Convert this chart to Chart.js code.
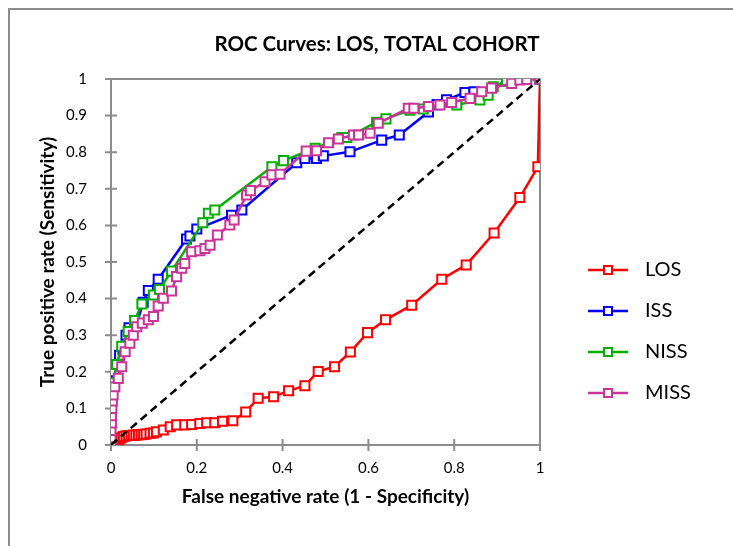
<!DOCTYPE html>
<html>
<head>
<meta charset="utf-8">
<script src="https://cdn.jsdelivr.net/npm/chart.js@4.4.1/dist/chart.umd.min.js"></script>
<style>
  html, body { margin: 0; padding: 0; background: #fff; overflow: hidden; }
  #wrap { position: relative; width: 733px; height: 546px; overflow: hidden; }
  #frame { position: absolute; left: 8px; top: 8px; width: 760px; height: 560px; border: 2px solid #8c8c8c; }
  #c { position: absolute; left: 0; top: 0; }
</style>
</head>
<body>
<div id="wrap">
  <div id="frame"></div>
  <canvas id="c" width="780" height="546"></canvas>
</div>
<script>
// ROC points: [false positive rate, true positive rate]
const losPoints = [
  [0, 0], [0.005, 0.005], [0.009, 0.009], [0.014, 0.012], [0.019, 0.016], [0.024, 0.02],
  [0.029, 0.023], [0.035, 0.025], [0.041, 0.026], [0.047, 0.026], [0.052, 0.027], [0.058, 0.027],
  [0.064, 0.028], [0.07, 0.028], [0.076, 0.029], [0.082, 0.03], [0.091, 0.032], [0.099, 0.033],
  [0.106, 0.036], [0.122, 0.041], [0.138, 0.05], [0.153, 0.055], [0.172, 0.055], [0.188, 0.056],
  [0.207, 0.059], [0.223, 0.061], [0.242, 0.061], [0.26, 0.065], [0.284, 0.066], [0.314, 0.09],
  [0.343, 0.128], [0.379, 0.132], [0.414, 0.148], [0.452, 0.162], [0.483, 0.201], [0.521, 0.214],
  [0.558, 0.254], [0.598, 0.307], [0.64, 0.342], [0.701, 0.382], [0.771, 0.453], [0.828, 0.492],
  [0.893, 0.579], [0.953, 0.676], [0.995, 0.76], [1, 1]
];
const issPoints = [
  [0, 0], [0.002, 0.13], [0.004, 0.17], [0.008, 0.2], [0.015, 0.22], [0.02, 0.245], [0.028, 0.26],
  [0.035, 0.3], [0.042, 0.32], [0.06, 0.33], [0.075, 0.39], [0.087, 0.422], [0.11, 0.453],
  [0.176, 0.563], [0.184, 0.571], [0.2, 0.59], [0.281, 0.628], [0.305, 0.642], [0.433, 0.771],
  [0.452, 0.783], [0.479, 0.783], [0.495, 0.79], [0.557, 0.801], [0.631, 0.833], [0.672, 0.847],
  [0.74, 0.91], [0.76, 0.93], [0.782, 0.943], [0.825, 0.963], [0.846, 0.965], [0.946, 1], [1, 1]
];
const nissPoints = [
  [0, 0], [0, 0.14], [0.005, 0.17], [0.013, 0.22], [0.025, 0.27], [0.04, 0.31], [0.055, 0.34],
  [0.072, 0.385], [0.099, 0.41], [0.113, 0.425], [0.141, 0.475], [0.214, 0.607], [0.227, 0.633],
  [0.242, 0.642], [0.375, 0.76], [0.402, 0.777], [0.476, 0.811], [0.538, 0.84], [0.55, 0.84],
  [0.619, 0.882], [0.641, 0.891], [0.697, 0.915], [0.728, 0.918], [0.806, 0.929], [0.86, 0.943],
  [0.879, 0.956], [0.891, 0.979], [0.922, 0.993], [0.937, 0.997], [1, 1]
];
const missPoints = [
  [0, 0], [0, 0.02], [0, 0.04], [0.001, 0.06], [0.001, 0.08], [0.002, 0.1], [0.003, 0.12],
  [0.005, 0.137], [0.009, 0.159], [0.017, 0.182], [0.025, 0.214], [0.033, 0.255], [0.044, 0.278],
  [0.052, 0.3], [0.06, 0.323], [0.073, 0.333], [0.087, 0.342], [0.099, 0.351], [0.11, 0.38],
  [0.122, 0.401], [0.141, 0.421], [0.153, 0.46], [0.165, 0.483], [0.172, 0.496], [0.188, 0.528],
  [0.207, 0.531], [0.219, 0.537], [0.231, 0.546], [0.248, 0.574], [0.277, 0.601], [0.287, 0.615],
  [0.316, 0.683], [0.325, 0.695], [0.359, 0.719], [0.375, 0.738], [0.394, 0.74], [0.455, 0.803],
  [0.479, 0.804], [0.507, 0.826], [0.53, 0.836], [0.565, 0.847], [0.577, 0.847], [0.604, 0.852],
  [0.623, 0.879], [0.693, 0.92], [0.706, 0.92], [0.74, 0.925], [0.767, 0.929], [0.794, 0.936],
  [0.837, 0.947], [0.864, 0.965], [0.887, 0.975], [0.934, 0.988], [0.953, 0.997], [0.969, 0.999], [1, 1]
];
const diagPoints = [[0, 0], [1, 1]];

const seriesNames = ['LOS', 'ISS', 'NISS', 'MISS'];
const seriesColors = ['#ff0000', '#0000ff', '#00b000', '#cc3399'];
const seriesPoints = [losPoints, issPoints, nissPoints, missPoints];

const xTicks = [0, 0.2, 0.4, 0.6, 0.8, 1];
const xTickLabels = ['0', '0.2', '0.4', '0.6', '0.8', '1'];
const yTicks = [0, 0.1, 0.2, 0.3, 0.4, 0.5, 0.6, 0.7, 0.8, 0.9, 1];
const yTickLabels = ['0', '0.1', '0.2', '0.3', '0.4', '0.5', '0.6', '0.7', '0.8', '0.9', '1'];

// where things sit on the page
const PLOT = { left: 111, right: 540, top: 79, bottom: 445 };
const CANVAS_W = 780, CANVAS_H = 546;
const TITLE_CX = 377;
const YTITLE_X = 48;
const FONT = 'Lato';
const AXIS_TITLE_SIZE = 19;
let padLeft = 0;

const toXY = pts => pts.map(p => ({ x: p[0], y: p[1] }));

function legendIcon(color) {
  const c = document.createElement('canvas');
  c.width = 74; c.height = 14;
  const g = c.getContext('2d');
  g.strokeStyle = color;
  g.lineWidth = 2.5;
  g.beginPath(); g.moveTo(27, 7); g.lineTo(67, 7); g.stroke();
  g.lineWidth = 2;
  g.fillStyle = '#fff';
  g.fillRect(43, 3, 8, 8);
  g.strokeRect(43, 3, 8, 8);
  return c;
}
const icons = {};
seriesNames.forEach((n, i) => { icons[n] = legendIcon(seriesColors[i]); });

// plot box frame + tick marks crossing the axes
const plotFrame = {
  id: 'plotFrame',
  beforeDatasetsDraw(chart) {
    const { ctx, chartArea: a, scales } = chart;
    ctx.save();
    ctx.strokeStyle = '#8c8c8c';
    ctx.lineWidth = 2;
    ctx.strokeRect(a.left, a.top, a.right - a.left, a.bottom - a.top);
    ctx.beginPath();
    xTicks.forEach(v => {
      const x = scales.x.getPixelForValue(v);
      ctx.moveTo(x, a.bottom - 6); ctx.lineTo(x, a.bottom + 6);
    });
    yTicks.forEach(v => {
      const y = scales.y.getPixelForValue(v);
      ctx.moveTo(a.left - 6, y); ctx.lineTo(a.left + 6, y);
    });
    ctx.stroke();
    ctx.restore();
  }
};

const datasets = [{
  label: 'diag',
  data: toXY(diagPoints),
  borderColor: '#000',
  borderWidth: 2.5,
  borderDash: [8, 5],
  pointRadius: 0,
  showLine: true
}];
// reversed so MISS sits on top and LOS underneath
for (let i = seriesNames.length - 1; i >= 0; i--) {
  datasets.push({
    label: seriesNames[i],
    data: toXY(seriesPoints[i]),
    borderColor: seriesColors[i],
    backgroundColor: '#fff',
    borderWidth: 2.5,
    showLine: true,
    pointStyle: 'rect',
    pointRadius: 6.4,
    pointBorderWidth: 2,
    pointBackgroundColor: '#fff',
    pointBorderColor: seriesColors[i]
  });
}

const chart = new Chart(document.getElementById('c'), {
  type: 'scatter',
  data: { datasets },
  plugins: [plotFrame],
  options: {
    responsive: false,
    animation: false,
    events: [],
    layout: { padding: 0 },
    plugins: {
      title: {
        display: true,
        text: 'ROC Curves: LOS, TOTAL COHORT',
        color: '#000',
        font: { family: FONT, size: 20.5, weight: 'bold' },
        padding: { top: 31.7, bottom: 22.7 }
      },
      legend: {
        position: 'right',
        reverse: true,
        title: { display: true, text: '', font: { size: 12 }, padding: { top: 0, bottom: 102.6 } },
        labels: {
          usePointStyle: true,
          pointStyleWidth: 74,
          padding: 21,
          color: '#000',
          font: { family: FONT, size: 20 },
          filter: item => item.text !== 'diag',
          generateLabels: c => {
            const items = Chart.defaults.plugins.legend.labels.generateLabels(c);
            items.forEach(it => { if (icons[it.text]) it.pointStyle = icons[it.text]; });
            return items;
          }
        }
      },
      tooltip: { enabled: false }
    },
    scales: {
      x: {
        type: 'linear',
        min: 0, max: 1,
        grid: { display: false },
        border: { display: false },
        afterBuildTicks: s => { s.ticks = xTicks.map(v => ({ value: v })); },
        afterFit: s => { s.height = CANVAS_H - PLOT.bottom; },
        ticks: {
          color: '#000',
          padding: 6,
          font: { family: FONT, size: 15 },
          callback: (v, i) => xTickLabels[i]
        },
        title: {
          display: true,
          text: 'False negative rate (1 - Specificity)',
          color: '#000',
          font: { family: FONT, size: AXIS_TITLE_SIZE, weight: 'bold' },
          padding: { top: 0, bottom: CANVAS_H - 497 - AXIS_TITLE_SIZE * 0.6 }
        }
      },
      y: {
        type: 'linear',
        min: 0, max: 1,
        grid: { display: false },
        border: { display: false },
        afterBuildTicks: s => { s.ticks = yTicks.map(v => ({ value: v })); },
        afterFit: s => { s.width = PLOT.left - padLeft; },
        ticks: {
          color: '#000',
          padding: 16,
          font: { family: FONT, size: 15 },
          callback: (v, i) => yTickLabels[i]
        },
        title: {
          display: true,
          text: 'True positive rate (Sensitivity)',
          color: '#000',
          font: { family: FONT, size: AXIS_TITLE_SIZE, weight: 'bold' },
          padding: { top: 0, bottom: 0 }
        }
      }
    }
  }
});

// place the plot box where the picture has it, with the title centred on the frame
for (let k = 0; k < 3; k++) {
  const lw = chart.legend.width;
  padLeft = Math.max(0, 2 * TITLE_CX - PLOT.right - lw);
  const padRight = CANVAS_W - PLOT.right - lw;
  chart.options.layout.padding = { left: padLeft, right: padRight, top: 0, bottom: 0 };
  chart.options.scales.y.title.padding = { top: YTITLE_X - padLeft - AXIS_TITLE_SIZE * 0.6, bottom: 0 };
  chart.update();
}
</script>
</body>
</html>
